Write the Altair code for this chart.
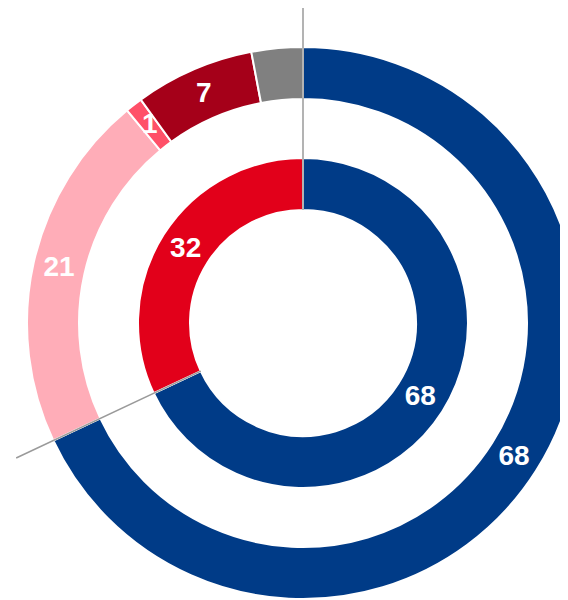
import altair as alt
import pandas as pd

# ---- data ----
outer_cats = ["Außen A", "Außen B", "Außen C", "Außen D", "Außen E"]
outer_vals = [68, 21, 1, 7, 3]
outer_labels = ["68", "21", "1", "7", ""]

inner_cats = ["Innen A", "Innen B"]
inner_vals = [68, 32]
inner_labels = ["68", "32"]

boundaries = [0, 68]

color_domain = outer_cats + inner_cats
color_range = ["#003B87", "#FFADB8", "#FF5068", "#A50019", "#808080",
               "#003B87", "#E2001A"]

outer_df = pd.DataFrame({"cat": outer_cats, "value": outer_vals,
                         "label": outer_labels, "idx": range(len(outer_cats))})
inner_df = pd.DataFrame({"cat": inner_cats, "value": inner_vals,
                         "label": inner_labels, "idx": range(len(inner_cats))})
line_df = pd.DataFrame({"b": boundaries})

CX, CY = 295, 315
theta_scale = alt.Scale(domain=[0, 100])
color = alt.Color("cat:N", scale=alt.Scale(domain=color_domain, range=color_range), legend=None)

outer_base = alt.Chart(outer_df).encode(
    theta=alt.Theta("value:Q", stack=True, scale=theta_scale),
    order=alt.Order("idx:Q"),
)
outer_arc = outer_base.mark_arc(radius=276, radius2=224, x=CX, y=CY,
                                stroke="white", strokeWidth=2).encode(color=color)
outer_txt = outer_base.mark_text(radius=250, x=CX, y=CY, font="Liberation Sans",
                                 fontWeight="bold", fontSize=28, color="white").encode(text="label:N")

inner_base = alt.Chart(inner_df).encode(
    theta=alt.Theta("value:Q", stack=True, scale=theta_scale),
    order=alt.Order("idx:Q"),
)
inner_arc = inner_base.mark_arc(radius=165, radius2=113, x=CX, y=CY,
                                stroke="white", strokeWidth=2).encode(color=color)
inner_txt = inner_base.mark_text(radius=139, x=CX, y=CY, font="Liberation Sans",
                                 fontWeight="bold", fontSize=28, color="white").encode(text="label:N")

lines = alt.Chart(line_df).mark_arc(radius=113, radius2=317, x=CX, y=CY,
                                    filled=False, stroke="#9A9A9A", strokeWidth=1.5).encode(
    theta=alt.Theta("b:Q", stack=None, scale=theta_scale),
    theta2="b:Q",
)

chart = alt.layer(outer_arc, inner_arc, lines, outer_txt, inner_txt).properties(
    width=552, height=592, padding=0,
    autosize=alt.AutoSizeParams(type="none"),
).configure_view(stroke=None)

chart.save("out.html", embed_options={"renderer": "svg", "actions": False})
